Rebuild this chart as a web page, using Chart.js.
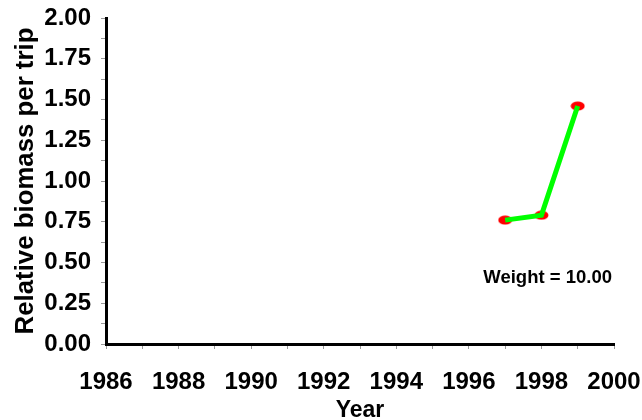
<!DOCTYPE html>
<html>
<head>
<meta charset="utf-8">
<script src="https://cdn.jsdelivr.net/npm/chart.js@4.4.1/dist/chart.umd.min.js"></script>
<style>
  html, body { margin: 0; padding: 0; background: #fff; overflow: hidden; }
  #wrap { width: 642px; height: 420px; overflow: hidden; }
</style>
</head>
<body>
<div id="wrap"><canvas id="biomassChart" width="660" height="420"></canvas></div>
<script>
const years = [1997, 1998, 1999];
const biomass = [0.76, 0.79, 1.46];
const xTickLabels = [1986, 1988, 1990, 1992, 1994, 1996, 1998, 2000];
const yTickLabels = [0, 0.25, 0.5, 0.75, 1, 1.25, 1.5, 1.75, 2];
const weightText = "Weight = 10.00";

const points = years.map((y, i) => ({ x: y, y: biomass[i] }));

// red oval marker
const marker = document.createElement("canvas");
marker.width = 15; marker.height = 10;
{
  const m = marker.getContext("2d");
  m.fillStyle = "#ff0000";
  m.beginPath();
  m.ellipse(7.5, 5, 7, 4.5, 0, 0, Math.PI * 2);
  m.fill();
}

const family = "'Liberation Sans', Arial, sans-serif";
const tickFont = { family: family, weight: "bold", size: 24 };

const weightLabel = {
  id: "weightLabel",
  afterDraw(chart) {
    const ctx = chart.ctx;
    const a = chart.chartArea;
    ctx.save();
    ctx.font = "bold 18.5px " + family;
    ctx.fillStyle = "#000";
    ctx.textAlign = "right";
    ctx.textBaseline = "middle";
    ctx.fillText(weightText, a.right - 2, 278);
    ctx.restore();
  }
};

new Chart(document.getElementById("biomassChart"), {
  type: "scatter",
  data: {
    datasets: [
      {
        data: points,
        showLine: true,
        borderColor: "#00ff00",
        borderWidth: 5,
        pointRadius: 0,
        order: 1
      },
      {
        data: points,
        showLine: false,
        pointStyle: marker,
        pointRadius: 7,
        order: 2
      }
    ]
  },
  plugins: [weightLabel],
  options: {
    responsive: false,
    animation: false,
    layout: { padding: { top: 18, right: 46, left: 0, bottom: 0 } },
    plugins: { legend: { display: false }, tooltip: { enabled: false } },
    scales: {
      x: {
        type: "linear",
        min: 1986,
        max: 2000,
        afterBuildTicks: s => { s.ticks = []; for (let v = 1986; v <= 2000; v++) s.ticks.push({ value: v }); },
        ticks: {
          autoSkip: false,
          maxRotation: 0,
          padding: 19,
          color: "#000",
          font: tickFont,
          callback: v => xTickLabels.includes(v) ? String(v) : ""
        },
        grid: { drawOnChartArea: false, tickLength: 5, color: "#999" },
        border: { color: "#000", width: 3 },
        title: { display: true, text: "Year", color: "#000",
                 font: { family: family, weight: "bold", size: 23, lineHeight: 1.0 }, padding: { top: 0, bottom: -2 } },
        afterFit: s => { s.height = 76; }
      },
      y: {
        min: 0,
        max: 2,
        afterBuildTicks: s => { s.ticks = []; for (let i = 0; i <= 16; i++) s.ticks.push({ value: i * 0.125 }); },
        ticks: {
          autoSkip: false,
          padding: 10,
          color: "#000",
          font: tickFont,
          callback: v => yTickLabels.some(t => Math.abs(t - v) < 1e-9) ? v.toFixed(2) : ""
        },
        grid: { drawOnChartArea: false, tickLength: 5, color: "#999" },
        border: { color: "#000", width: 3 },
        title: { display: true, text: "Relative biomass per trip", color: "#000",
                 font: { family: family, weight: "bold", size: 25.8 }, padding: { top: 10, bottom: 0 } },
        afterFit: s => { s.width = 106; s.paddingTop = 0; s.paddingBottom = 0; }
      }
    }
  }
});
</script>
</body>
</html>
